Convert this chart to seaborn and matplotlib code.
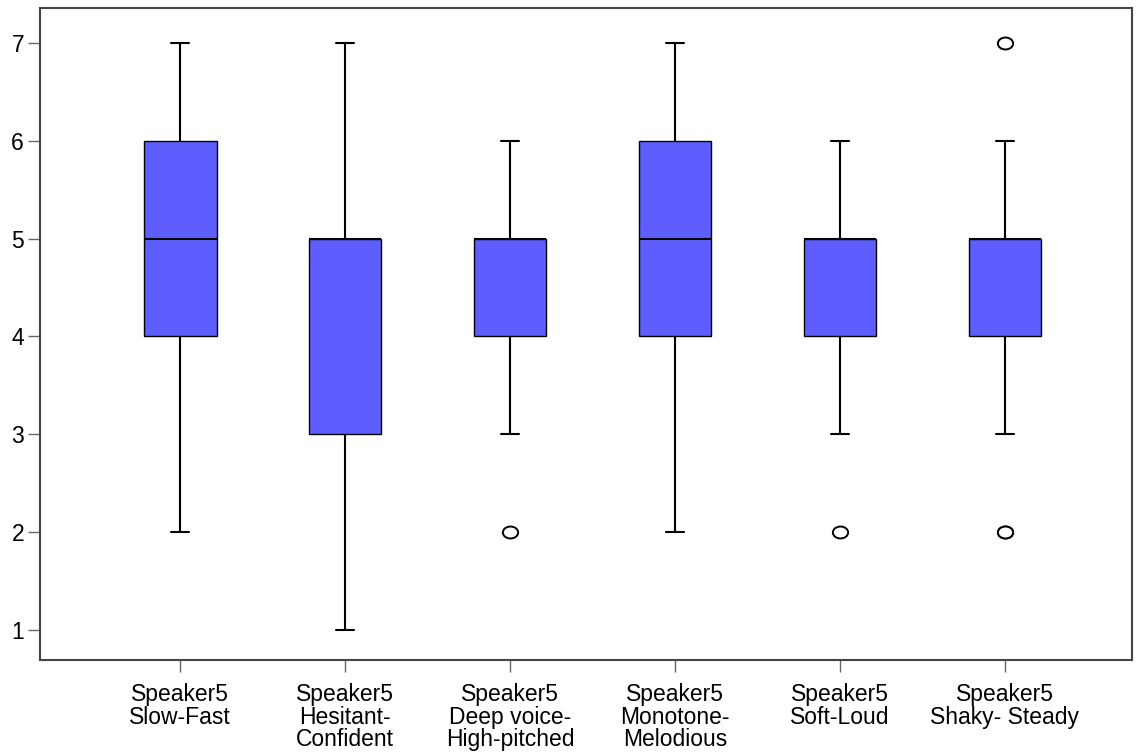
import numpy as np
import pandas as pd
import matplotlib
matplotlib.use("Agg")
import matplotlib.pyplot as plt
from matplotlib.path import Path
from matplotlib.transforms import Affine2D
import seaborn as sns

categories = [
    "Speaker5\nSlow-Fast",
    "Speaker5\nHesitant-\nConfident",
    "Speaker5\nDeep voice-\nHigh-pitched",
    "Speaker5\nMonotone-\nMelodious",
    "Speaker5\nSoft-Loud",
    "Speaker5\nShaky- Steady",
]
slow_fast = [2, 3, 4, 4, 4, 5, 5, 5, 6, 6, 6, 7]
hesitant_confident = [1, 2, 3, 3, 3, 5, 5, 5, 5, 5, 6, 7]
deep_high = [2, 3, 4, 4, 4, 5, 5, 5, 5, 5, 6, 6]
monotone_melodious = [2, 3, 4, 4, 4, 5, 5, 5, 6, 6, 6, 7]
soft_loud = [2, 3, 4, 4, 4, 5, 5, 5, 5, 5, 6, 6]
shaky_steady = [2, 2, 3, 4, 4, 4, 5, 5, 5, 5, 5, 5, 6, 7]
series = [slow_fast, hesitant_confident, deep_high, monotone_melodious, soft_loud, shaky_steady]
yticks = [1, 2, 3, 4, 5, 6, 7]

rows = []
for cat, vals in zip(categories, series):
    for v in vals:
        rows.append({"item": cat, "score": v})
df = pd.DataFrame(rows)

sns.set_style("white")
plt.rcParams["font.family"] = ["Liberation Sans", "DejaVu Sans"]
plt.rcParams["text.color"] = "black"

fig = plt.figure(figsize=(11.4, 7.56), dpi=100)
ax = fig.add_axes([40 / 1140, 1 - 660 / 756, (1132 - 40) / 1140, (660 - 8) / 756])

oval = Path.unit_circle().transformed(Affine2D().scale(1.28, 1.0))

sns.boxplot(
    data=df, x="item", y="score", order=categories, ax=ax,
    color="#5E5EFF", saturation=1, width=0.44, whis=1.5,
    linecolor="black", linewidth=1.0,
    boxprops=dict(edgecolor="black", linewidth=1.0),
    whiskerprops=dict(color="black", linewidth=1.5),
    capprops=dict(color="black", linewidth=1.5),
    medianprops=dict(color="black", linewidth=1.5),
    flierprops=dict(marker=oval, markerfacecolor="white", markeredgecolor="black",
                    markersize=11, markeredgewidth=1.4),
    capwidths=0.11,
)

ax.set_xlim(-0.85, 5.77)
ax.set_ylim(0.69, 7.36)
ax.set_yticks(yticks)
ax.set_xlabel("")
ax.set_ylabel("")
ax.tick_params(axis="both", which="both", direction="out", length=8.5, width=1.0,
               color="#666666", labelsize=16.5, labelcolor="black", left=True, bottom=True)
ax.tick_params(axis="x", pad=8)
ax.tick_params(axis="y", pad=3)
for lab in ax.get_xticklabels():
    lab.set_linespacing(0.98)
    lab.set_verticalalignment("top")
for sp in ax.spines.values():
    sp.set_visible(True)
    sp.set_color("#444444")
    sp.set_linewidth(1.5)

fig.savefig("out.png", dpi=100)
